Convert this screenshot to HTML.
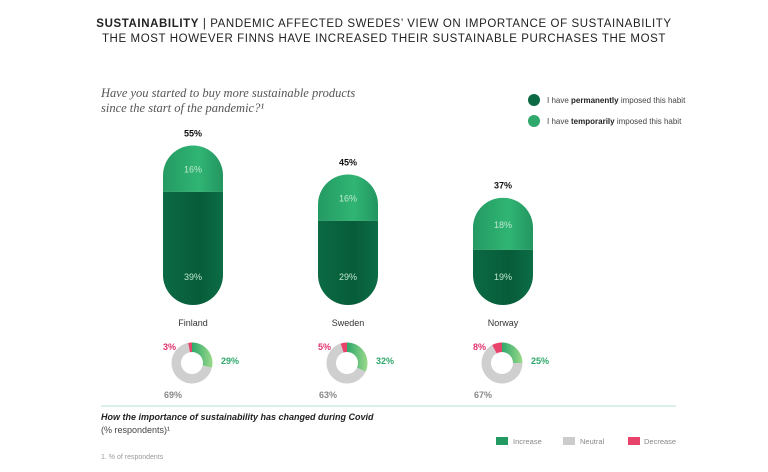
<!DOCTYPE html>
<html><head><meta charset="utf-8"><style>
body{margin:0;background:#fff;}
svg{display:block;font-family:"Liberation Sans",sans-serif;}
</style></head><body>
<svg width="768" height="472" viewBox="0 0 768 472">
<defs>
<linearGradient id="gl" x1="0" x2="1"><stop offset="0" stop-color="#249a63"/><stop offset="0.6" stop-color="#30b574"/><stop offset="1" stop-color="#239560"/></linearGradient>
<linearGradient id="gd" x1="0" x2="1"><stop offset="0" stop-color="#0b6a43"/><stop offset="0.6" stop-color="#075c39"/><stop offset="1" stop-color="#0c6d45"/></linearGradient>
<linearGradient id="gi" x1="0" x2="1"><stop offset="0" stop-color="#2ea86b"/><stop offset="1" stop-color="#9bd98a"/></linearGradient>
</defs>
<text x="384" y="27" text-anchor="middle" font-size="11.5" letter-spacing="0.6" fill="#222"><tspan font-weight="bold">SUSTAINABILITY</tspan> | PANDEMIC AFFECTED SWEDES’ VIEW ON IMPORTANCE OF SUSTAINABILITY</text>
<text x="384" y="42" text-anchor="middle" font-size="11.5" letter-spacing="0.6" fill="#222">THE MOST HOWEVER FINNS HAVE INCREASED THEIR SUSTAINABLE PURCHASES THE MOST</text>
<text x="101" y="97" font-family="Liberation Serif,serif" font-style="italic" font-size="12.5" fill="#555">Have you started to buy more sustainable products</text>
<text x="101" y="112" font-family="Liberation Serif,serif" font-style="italic" font-size="12.5" fill="#555">since the start of the pandemic?¹</text>
<g><circle cx="534" cy="100" r="6" fill="#0b6a43"/><text x="547" y="103" font-size="8" fill="#444">I have <tspan font-weight="bold" fill="#222">permanently</tspan> imposed this habit</text></g>
<g><circle cx="534" cy="121" r="6" fill="#2ea86b"/><text x="547" y="124" font-size="8" fill="#444">I have <tspan font-weight="bold" fill="#222">temporarily</tspan> imposed this habit</text></g>
<g id="bars"></g>
<g id="donuts"></g>
<line x1="101" y1="406" x2="676" y2="406" stroke="#cdebe3" stroke-width="1.5"/>
<text x="101" y="420" font-size="9" font-weight="bold" font-style="italic" fill="#222">How the importance of sustainability has changed during Covid</text>
<text x="101" y="433" font-size="9" fill="#444">(% respondents)¹</text>
<g><rect x="496" y="437" width="12" height="8" fill="#249a63"/><text x="513" y="444" font-size="7.5" fill="#888">Increase</text></g>
<g><rect x="563" y="437" width="12" height="8" fill="#ccc"/><text x="580" y="444" font-size="7.5" fill="#888">Neutral</text></g>
<g><rect x="628" y="437" width="12" height="8" fill="#e8436a"/><text x="644" y="444" font-size="7.5" fill="#888">Decrease</text></g>
<text x="101" y="459" font-size="7" fill="#999">1. % of respondents</text>
</svg>
<script>
const countries=["Finland","Sweden","Norway"];
const permanent=[39,29,19];
const temporary=[16,16,18];
const increase=[29,32,25];
const neutral=[69,63,67];
const decrease=[3,5,8];
const NS="http://www.w3.org/2000/svg";
const xCenter=i=>193+i*155;
const yScale=v=>v*2.9;
const base=305,W=60;
function mk(t,a,p){const e=document.createElementNS(NS,t);for(const k in a)e.setAttribute(k,a[k]);p.appendChild(e);return e;}
const bars=document.getElementById('bars');
countries.forEach((c,i)=>{
 const tot=permanent[i]+temporary[i];const h=yScale(tot);const top=base-h;
 const dh=h*permanent[i]/tot;const div=base-dh;const x=xCenter(i)-W/2;
 const g=mk('g',{},bars);
 
 
 const cid='clip'+i;
 const cp=mk('clipPath',{id:cid},g);mk('rect',{x:x,y:top,width:W,height:h,rx:30,ry:30},cp);
 const l=mk('rect',{x:x,y:top,width:W,height:h-dh,fill:'url(#gl)','clip-path':'url(#'+cid+')'},g);
 
 
 const d=mk('rect',{x:x,y:div,width:W,height:dh,fill:'url(#gd)','clip-path':'url(#'+cid+')'},g);
 
 
 let t=mk('text',{x:xCenter(i),y:(top+div)/2+4,'text-anchor':'middle','font-size':9,fill:'#bfe8cf'},g);t.textContent=temporary[i]+'%';
 t=mk('text',{x:xCenter(i),y:base-25,'text-anchor':'middle','font-size':9,fill:'#bfe8cf'},g);t.textContent=permanent[i]+'%';
 t=mk('text',{x:xCenter(i),y:top-9,'text-anchor':'middle','font-size':9,'font-weight':'bold',fill:'#111'},g);t.textContent=tot+'%';
 t=mk('text',{x:xCenter(i),y:326,'text-anchor':'middle','font-size':9,fill:'#333'},g);t.textContent=c;
 
 
});
const dn=document.getElementById('donuts');
function arc(cx,cy,R,r,a0,a1){const p=(a,rr)=>[cx+rr*Math.sin(a),cy-rr*Math.cos(a)];const L=(a1-a0)>Math.PI?1:0;const[a,b]=p(a0,R),[c,d]=p(a1,R),[e,f]=p(a1,r),[g,h]=p(a0,r);return `M${a},${b}A${R},${R} 0 ${L} 1 ${c},${d}L${e},${f}A${r},${r} 0 ${L} 0 ${g},${h}Z`;}
countries.forEach((c,i)=>{
 const cx=xCenter(i)-1,cy=363,R=20.5,r=11;const tot=increase[i]+neutral[i]+decrease[i];
 const g=mk('g',{},dn);
 
 
 const A=v=>v/tot*2*Math.PI;
 const a1=A(increase[i]),a2=a1+A(neutral[i]);
 mk('path',{d:arc(cx,cy,R,r,0,a1),fill:'url(#gi)'},g);
 mk('path',{d:arc(cx,cy,R,r,a1,a2),fill:'#cfcfcf'},g);
 mk('path',{d:arc(cx,cy,R,r,a2,2*Math.PI),fill:'#e8436a'},g);
 let t=mk('text',{x:cx+29,y:cy+1,'font-size':9,'font-weight':'bold',fill:'#2ea86b'},g);t.textContent=increase[i]+'%';
 t=mk('text',{x:cx-16,y:cy-13,'text-anchor':'end','font-size':9,'font-weight':'bold',fill:'#e0306a'},g);t.textContent=decrease[i]+'%';
 t=mk('text',{x:cx-28,y:cy+35,'font-size':9,'font-weight':'bold',fill:'#888'},g);t.textContent=neutral[i]+'%';
});
</script>
</body></html>
